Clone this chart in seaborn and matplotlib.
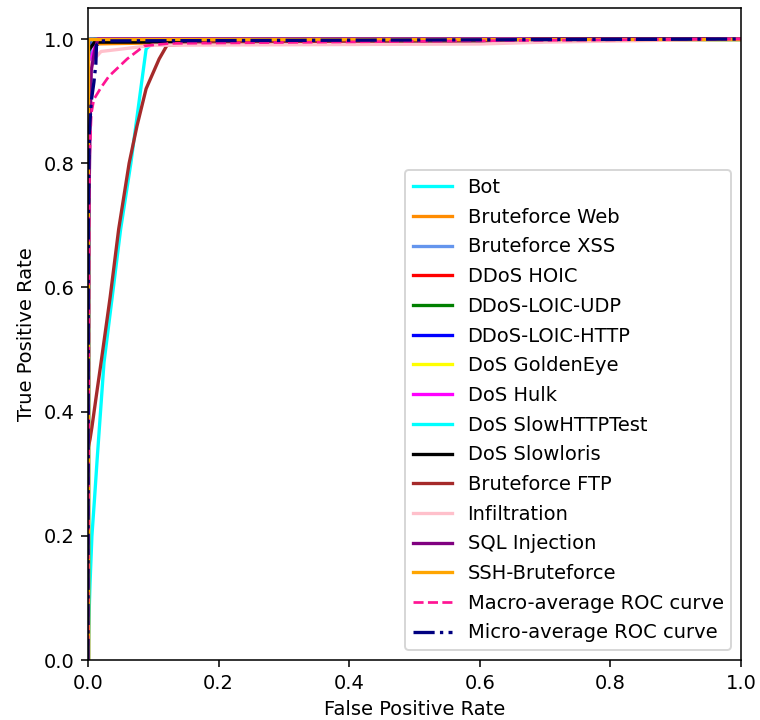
import matplotlib
matplotlib.use("Agg")
import matplotlib.pyplot as plt
import seaborn as sns
import numpy as np

# ROC curve data (FPR, TPR) per class
classes = ["Bot", "Bruteforce Web", "Bruteforce XSS", "DDoS HOIC", "DDoS-LOIC-UDP",
           "DDoS-LOIC-HTTP", "DoS GoldenEye", "DoS Hulk", "DoS SlowHTTPTest",
           "DoS Slowloris", "Bruteforce FTP", "Infiltration", "SQL Injection", "SSH-Bruteforce"]
colors = ["aqua", "darkorange", "cornflowerblue", "red", "green", "blue", "yellow",
          "magenta", "cyan", "black", "brown", "pink", "purple", "orange"]

fpr_bot = [0, 0.001, 0.003, 0.006, 0.01, 0.014, 0.0245, 0.037, 0.05, 0.0656, 0.089, 0.1, 0.3, 1]
tpr_bot = [0, 0.05, 0.12, 0.2, 0.26, 0.323, 0.479, 0.584, 0.694, 0.8, 0.984, 0.995, 1, 1]
fpr_web = [0, 0.001, 0.003, 0.115, 0.12, 1]
tpr_web = [0, 0.95, 0.992, 0.994, 1, 1]
fpr_xss = [0, 0.002, 0.004, 0.01, 1]
tpr_xss = [0, 0.9, 0.99, 1, 1]
fpr_hoic = [0, 0, 1]
tpr_hoic = [0, 1, 1]
fpr_udp = [0, 0, 1]
tpr_udp = [0, 1, 1]
fpr_http = [0, 0.001, 0.003, 1]
tpr_http = [0, 0.97, 1, 1]
fpr_golden = [0, 0, 1]
tpr_golden = [0, 1, 1]
fpr_hulk = [0, 0, 0.005, 0.01, 0.015, 1]
tpr_hulk = [0, 0.9, 0.97, 0.985, 1, 1]
fpr_slowhttp = [0, 0, 1]
tpr_slowhttp = [0, 1, 1]
fpr_slowloris = [0, 0, 0.01, 0.6, 0.67, 0.68, 1]
tpr_slowloris = [0, 0.98, 0.995, 0.996, 0.997, 1, 1]
fpr_ftp = [0, 0, 0.003, 0.006, 0.012, 0.02, 0.034, 0.047, 0.063, 0.075, 0.089, 0.109, 0.121, 0.2, 1]
tpr_ftp = [0, 0.34, 0.355, 0.375, 0.42, 0.479, 0.585, 0.694, 0.80, 0.86, 0.92, 0.968, 0.99, 0.995, 1]
fpr_infil = [0, 0, 0.003, 0.02, 0.1, 0.6, 0.7, 1]
tpr_infil = [0, 0.9, 0.96, 0.98, 0.99, 0.992, 0.995, 1]
fpr_sql = [0, 0.001, 0.003, 0.005, 0.01, 0.015, 1]
tpr_sql = [0, 0.7, 0.85, 0.95, 0.98, 1, 1]
fpr_ssh = [0, 0, 1]
tpr_ssh = [0, 1, 1]

fpr_macro = [0, 0.002, 0.005, 0.009, 0.02, 0.032, 0.06, 0.086, 0.125, 0.7, 1]
tpr_macro = [0, 0.8, 0.88, 0.903, 0.922, 0.94, 0.968, 0.989, 0.993, 0.998, 1]
fpr_micro = [0, 0.0005, 0.002, 0.005, 0.009, 0.012, 0.013, 0.02, 1]
tpr_micro = [0, 0.7, 0.85, 0.9, 0.93, 0.96, 0.99, 0.997, 1]

fprs = [fpr_bot, fpr_web, fpr_xss, fpr_hoic, fpr_udp, fpr_http, fpr_golden, fpr_hulk,
        fpr_slowhttp, fpr_slowloris, fpr_ftp, fpr_infil, fpr_sql, fpr_ssh]
tprs = [tpr_bot, tpr_web, tpr_xss, tpr_hoic, tpr_udp, tpr_http, tpr_golden, tpr_hulk,
        tpr_slowhttp, tpr_slowloris, tpr_ftp, tpr_infil, tpr_sql, tpr_ssh]

dpi = 140
fig = plt.figure(figsize=(760 / dpi, 720 / dpi), dpi=dpi)
ax = fig.add_axes([88 / 760, 60 / 720, (741 - 88) / 760, (660 - 8) / 720])

for name, col, fx, ty in zip(classes, colors, fprs, tprs):
    sns.lineplot(x=fx, y=ty, ax=ax, color=col, lw=1.7, label=name,
                 sort=False, estimator=None)

sns.lineplot(x=fpr_macro, y=tpr_macro, ax=ax, color="deeppink", lw=1.4,
             linestyle="--", label="Macro-average ROC curve", sort=False, estimator=None)
sns.lineplot(x=fpr_micro, y=tpr_micro, ax=ax, color="navy", lw=1.7,
             linestyle="-.", label="Micro-average ROC curve", sort=False, estimator=None)

ax.set_xlim(0, 1)
ax.set_ylim(0, 1.05)
ax.set_xlabel("False Positive Rate")
ax.set_ylabel("True Positive Rate")
ax.legend(loc="lower right", labelspacing=0.55)

fig.savefig("out.png", dpi=dpi)
